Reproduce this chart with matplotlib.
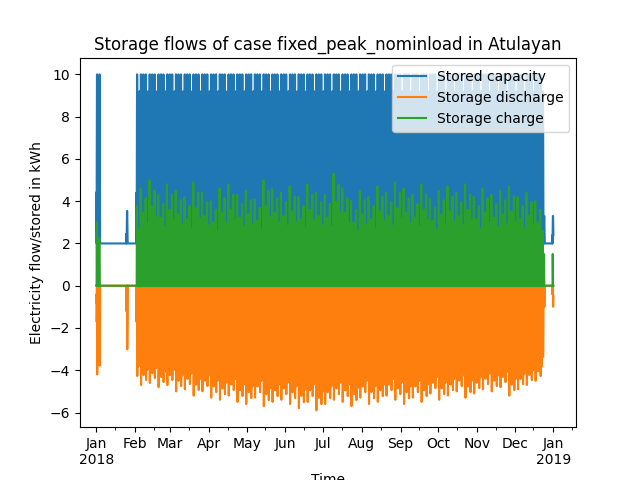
import numpy as np
import pandas as pd
import matplotlib
matplotlib.use('Agg')
import matplotlib.pyplot as plt
import matplotlib.dates as mdates

# weekly peak values (53 weeks of 2018)
cap_peak = [10, 4.2, 4.2, 4.2, 10, 10, 10, 10, 10, 10, 10, 10, 10, 10, 10, 10, 10, 10,
            10, 10, 10, 10, 10, 10, 10, 10, 10, 10, 10, 10, 10, 10, 10, 10, 10, 10,
            10, 10, 10, 10, 10, 10, 10, 10, 10, 10, 10, 10, 10, 10, 10, 3.3, 3.3]
charge_peak = [3.0, 0, 0, 0, 4.2, 4.6, 5.0, 4.3, 4.8, 4.5, 4.2, 4.9, 4.4, 4.0, 4.6, 4.8,
               4.3, 4.5, 4.1, 5.0, 4.6, 4.4, 4.7, 4.2, 4.8, 4.4, 4.3, 5.3, 4.6, 4.0,
               4.5, 4.2, 4.7, 4.4, 4.9, 4.6, 4.3, 4.8, 4.1, 4.5, 4.7, 4.4, 4.8, 4.2,
               4.6, 4.3, 4.5, 4.7, 4.2, 4.4, 4.0, 1.5, 1.5]
discharge_peak = [-4.2, 0, 0, -4.3, -4.5, -4.7, -4.6, -4.8, -4.7, -5.0, -4.9, -5.2,
                  -5.0, -5.3, -5.4, -5.2, -5.5, -5.6, -5.3, -5.7, -5.5, -5.4, -5.6,
                  -5.8, -5.5, -5.9, -5.6, -5.4, -5.5, -5.7, -5.3, -5.6, -5.5, -5.2,
                  -5.4, -5.6, -5.3, -5.5, -5.1, -5.4, -5.2, -5.0, -5.3, -5.1, -4.9,
                  -5.0, -4.8, -5.2, -4.9, -4.7, -4.5, -1.0, -1.0]
# day-of-week scaling of the peaks
cap_day = [1, 0.45, 1, 0.7, 1, 0.35, 0.9]
charge_day = [1, 0.5, 0.75, 0.45, 0.9, 0.55, 0.65]
discharge_day = [1, 0.8, 0.9, 0.7, 0.95, 0.85, 0.75]
# days in which the storage is in use
active_days = [(0, 2), (24, 24), (32, 357), (364, 364)]

# hourly profile of one day
cap_shape = [0.3, 0.2, 0.1, 0, 0, 0, 0, 0.1, 0.3, 0.5, 0.7, 0.9,
             1, 1, 1, 1, 1, 1, 0.9, 0.7, 0.5, 0.4, 0.35, 0.3]
charge_shape = [0, 0, 0, 0, 0, 0, 0, 0.3, 0.6, 0.9, 1, 0.8,
                0.6, 0.5, 0.4, 0.3, 0, 0, 0, 0, 0, 0, 0, 0]
discharge_shape = [0.4, 0.3, 0.25, 0.2, 0.15, 0.1, 0.2, 0, 0, 0, 0, 0,
                   0, 0, 0, 0, 0, 0.5, 1, 0.9, 0.8, 0.7, 0.6, 0.5]

idx = pd.date_range('2018-01-01', '2018-12-31 23:00', freq='h')
cap, dis, chg = [], [], []
for d in range(365):
    w = d // 7
    k = d % 7
    on = any(a <= d <= b for a, b in active_days)
    for h in range(24):
        if on:
            cap.append(2 + (cap_peak[w] - 2) * cap_day[k] * cap_shape[h])
            dis.append(discharge_peak[w] * discharge_day[k] * discharge_shape[h])
            chg.append(charge_peak[w] * charge_day[k] * charge_shape[h])
        else:
            cap.append(2.0)
            dis.append(0.0)
            chg.append(0.0)

fig, ax = plt.subplots(figsize=(6.4, 4.8), dpi=100)
ax.plot(idx, cap, label='Stored capacity')
ax.plot(idx, dis, label='Storage discharge')
ax.plot(idx, chg, label='Storage charge')

ax.set_xlim(pd.Timestamp('2017-12-19'), pd.Timestamp('2019-01-19'))
ax.xaxis.set_major_locator(mdates.MonthLocator())
ax.xaxis.set_minor_locator(mdates.MonthLocator(bymonthday=16))


def fmt(x, pos):
    t = mdates.num2date(x)
    return t.strftime('%b\n%Y') if t.month == 1 else t.strftime('%b')


ax.xaxis.set_major_formatter(plt.FuncFormatter(fmt))
ax.set_title('Storage flows of case fixed_peak_nominload in Atulayan')
ax.set_ylabel('Electricity flow/stored in kWh')
ax.set_xlabel('Time')
ax.legend(loc='upper right')
fig.savefig('out.png')
